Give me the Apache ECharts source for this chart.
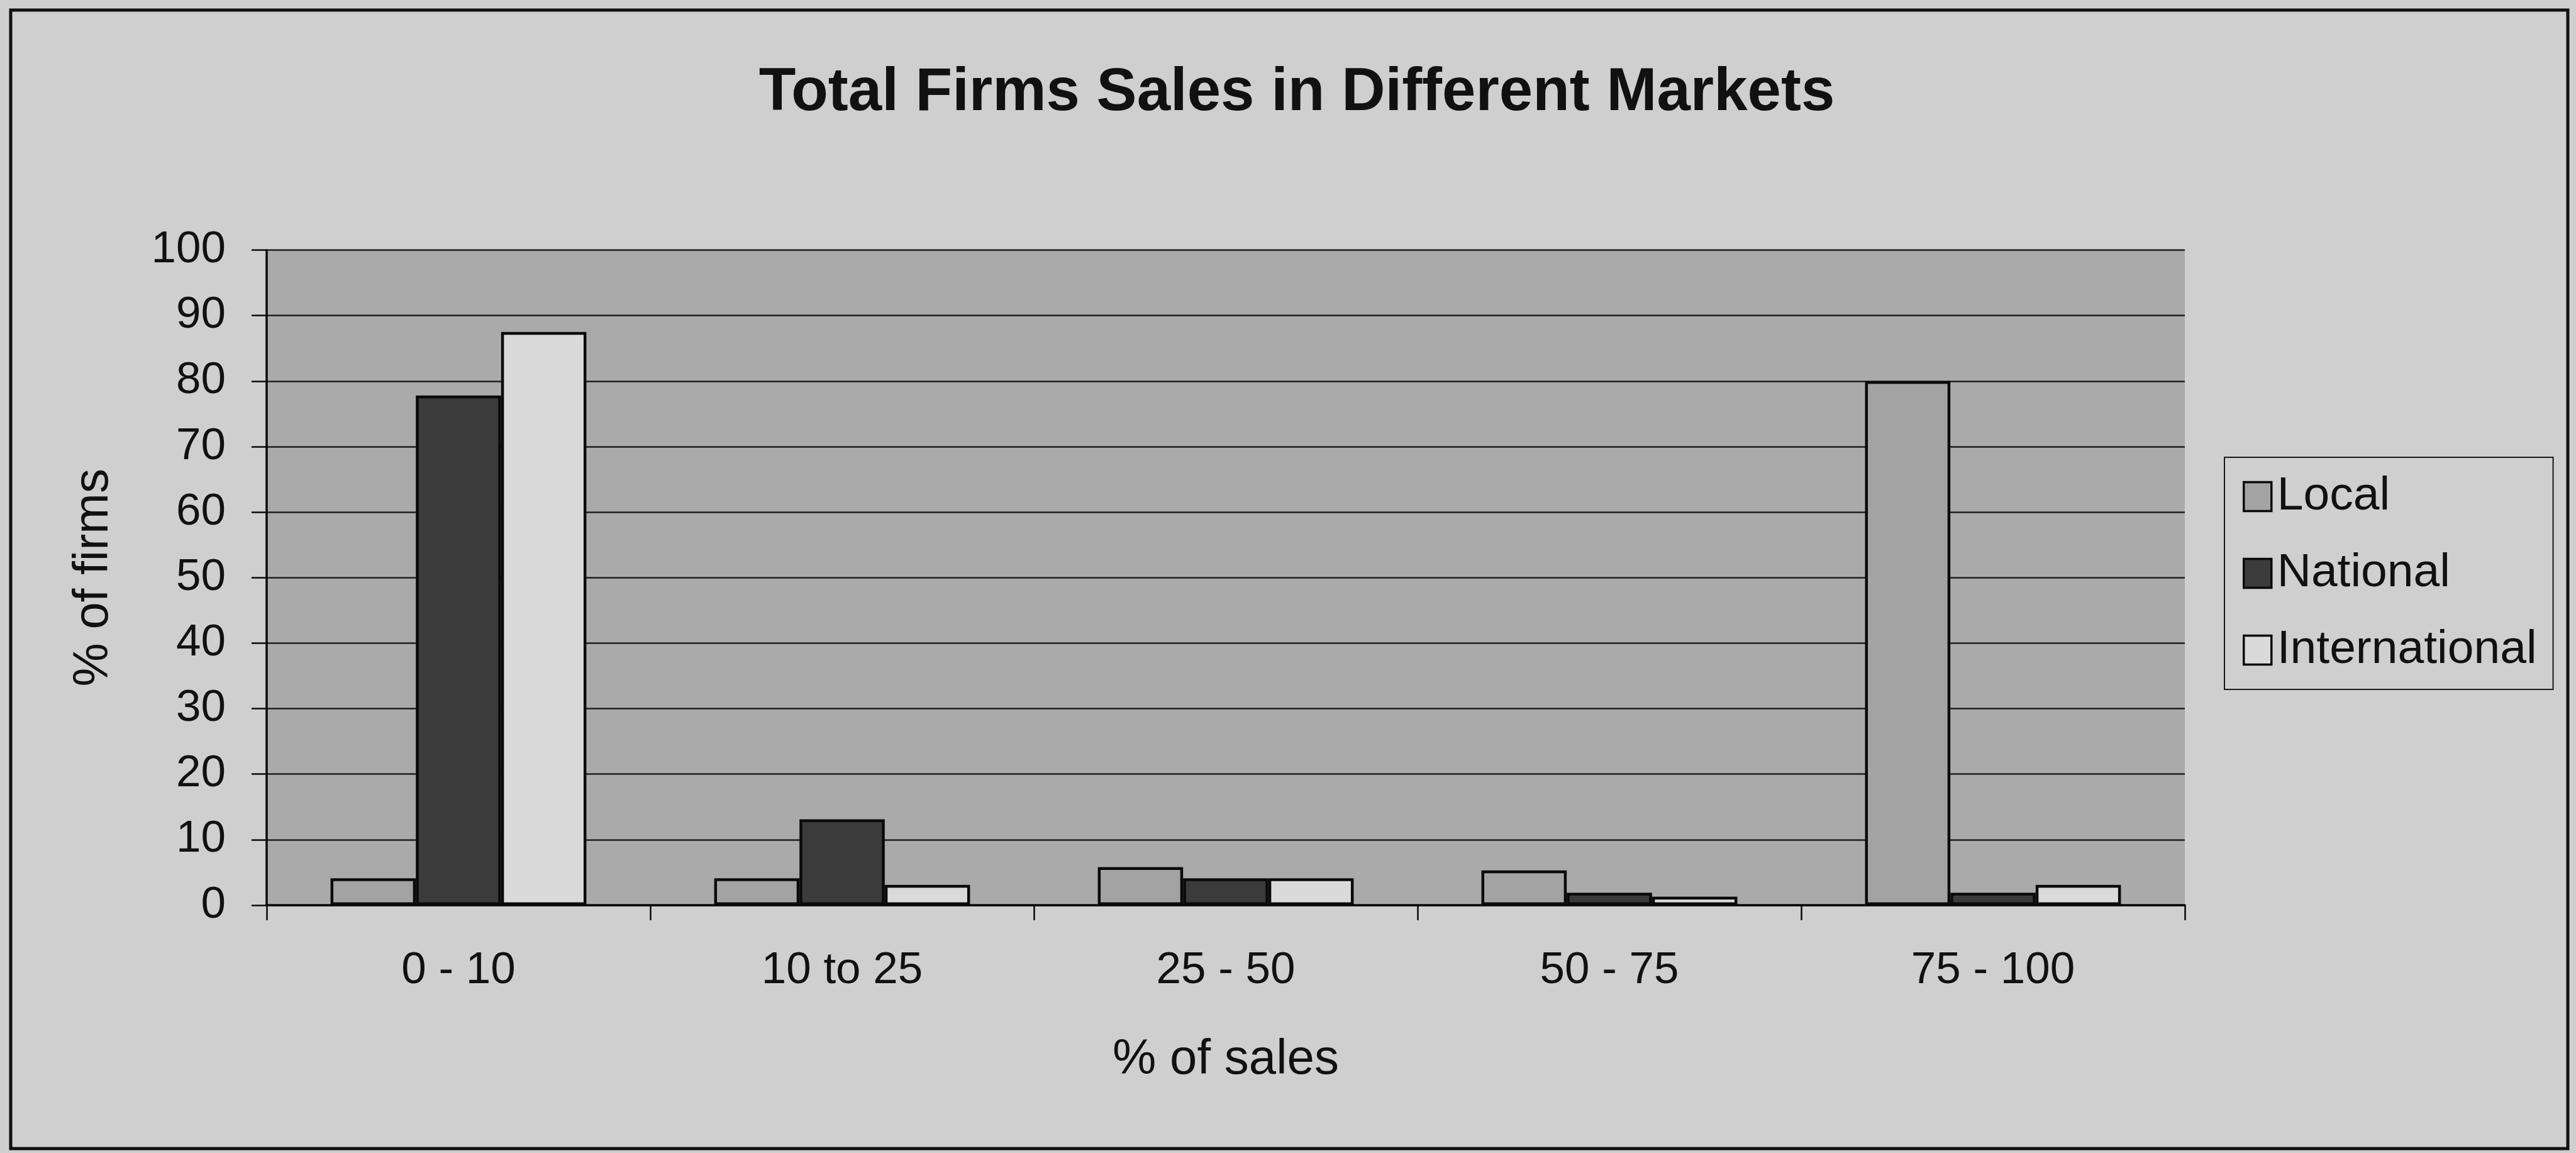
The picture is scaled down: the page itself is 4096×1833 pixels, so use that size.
<!DOCTYPE html>
<html>
<head>
<meta charset="utf-8">
<title>Total Firms Sales in Different Markets</title>
<script src="https://cdn.jsdelivr.net/npm/echarts@6/dist/echarts.min.js"></script>
<style>
  html, body { margin: 0; padding: 0; background: #cfcfcf; }
  #chart { width: 4096px; height: 1833px; }
</style>
</head>
<body>
<div id="chart"></div>
<script>
// Share of sales made in each market, grouped by band of sales
const categories = ['0 - 10', '10 to 25', '25 - 50', '50 - 75', '75 - 100'];
const seriesNames = ['Local', 'National', 'International'];
const localValues = [4.1, 4.1, 5.8, 5.3, 80.0];
const nationalValues = [77.8, 13.1, 4.1, 1.9, 1.9];
const internationalValues = [87.5, 3.1, 4.1, 1.3, 3.1];
const yMin = 0;
const yMax = 100;
const yStep = 10;

const FONT = '"Liberation Sans", Arial, Helvetica, sans-serif';
const INK = '#111111';
const fills = { Local: '#a3a3a3', National: '#3b3b3b', International: '#dadada' };

const chart = echarts.init(document.getElementById('chart'), null, { renderer: 'canvas' });

function barSeries(name, values) {
  return {
    name: name,
    type: 'bar',
    data: values,
    barGap: '0%',
    barCategoryGap: '33.3%',
    itemStyle: {
      color: fills[name],
      borderColor: '#0a0a0a',
      borderWidth: 4.5
    },
    emphasis: { disabled: true }
  };
}

chart.setOption({
  animation: false,
  backgroundColor: '#cfcfcf',
  title: {
    text: 'Total Firms Sales in Different Markets',
    left: 2057,
    textAlign: 'center',
    top: 96,
    textStyle: {
      fontFamily: FONT,
      fontWeight: 'bold',
      fontSize: 96,
      lineHeight: 96,
      color: INK
    }
  },
  legend: {
    data: seriesNames,
    orient: 'vertical',
    left: 3537,
    top: 727,
    padding: [25, 26, 25, 29],
    itemWidth: 44,
    itemHeight: 46,
    itemGap: 47,
    icon: 'rect',
    borderColor: '#1a1a1a',
    borderWidth: 2,
    backgroundColor: '#cfcfcf',
    selectedMode: false,
    textStyle: {
      fontFamily: FONT,
      fontSize: 75,
      lineHeight: 75,
      color: INK,
      padding: [0, 0, 0, 4]
    },
    itemStyle: { borderColor: '#0a0a0a', borderWidth: 3.5 }
  },
  grid: {
    left: 424,
    top: 397.5,
    right: 622,
    bottom: 394,
    show: true,
    backgroundColor: '#aaaaaa',
    borderWidth: 0,
    containLabel: false
  },
  xAxis: {
    type: 'category',
    data: categories,
    name: '% of sales',
    nameLocation: 'middle',
    nameGap: 207,
    nameTextStyle: { fontFamily: FONT, fontSize: 78, lineHeight: 78, color: INK },
    axisLine: { show: true, lineStyle: { color: '#0a0a0a', width: 3.5 } },
    axisTick: { show: true, inside: false, length: 24, lineStyle: { color: '#0a0a0a', width: 2.5 } },
    axisLabel: {
      margin: 69,
      fontFamily: FONT,
      fontSize: 71,
      lineHeight: 71,
      color: INK
    },
    splitLine: { show: false }
  },
  yAxis: {
    type: 'value',
    min: yMin,
    max: yMax,
    interval: yStep,
    name: '% of firms',
    nameLocation: 'middle',
    nameGap: 236,
    nameRotate: 90,
    nameTextStyle: { fontFamily: FONT, fontSize: 78, lineHeight: 78, color: INK },
    axisLine: { show: true, lineStyle: { color: '#0a0a0a', width: 3.5 } },
    axisTick: { show: true, inside: false, length: 24, lineStyle: { color: '#0a0a0a', width: 2.5 } },
    axisLabel: {
      margin: 65,
      fontFamily: FONT,
      fontSize: 71,
      lineHeight: 71,
      color: INK,
      padding: [0, 0, 19, 0]
    },
    splitLine: { show: true, lineStyle: { color: '#1e1e1e', width: 2.5 } }
  },
  series: [
    barSeries('Local', localValues),
    barSeries('National', nationalValues),
    barSeries('International', internationalValues)
  ],
  graphic: [
    {
      type: 'rect',
      silent: true,
      z: 100,
      shape: { x: 17, y: 16, width: 4066, height: 1810 },
      style: { fill: null, stroke: '#111111', lineWidth: 5 }
    }
  ]
});
</script>
</body>
</html>
